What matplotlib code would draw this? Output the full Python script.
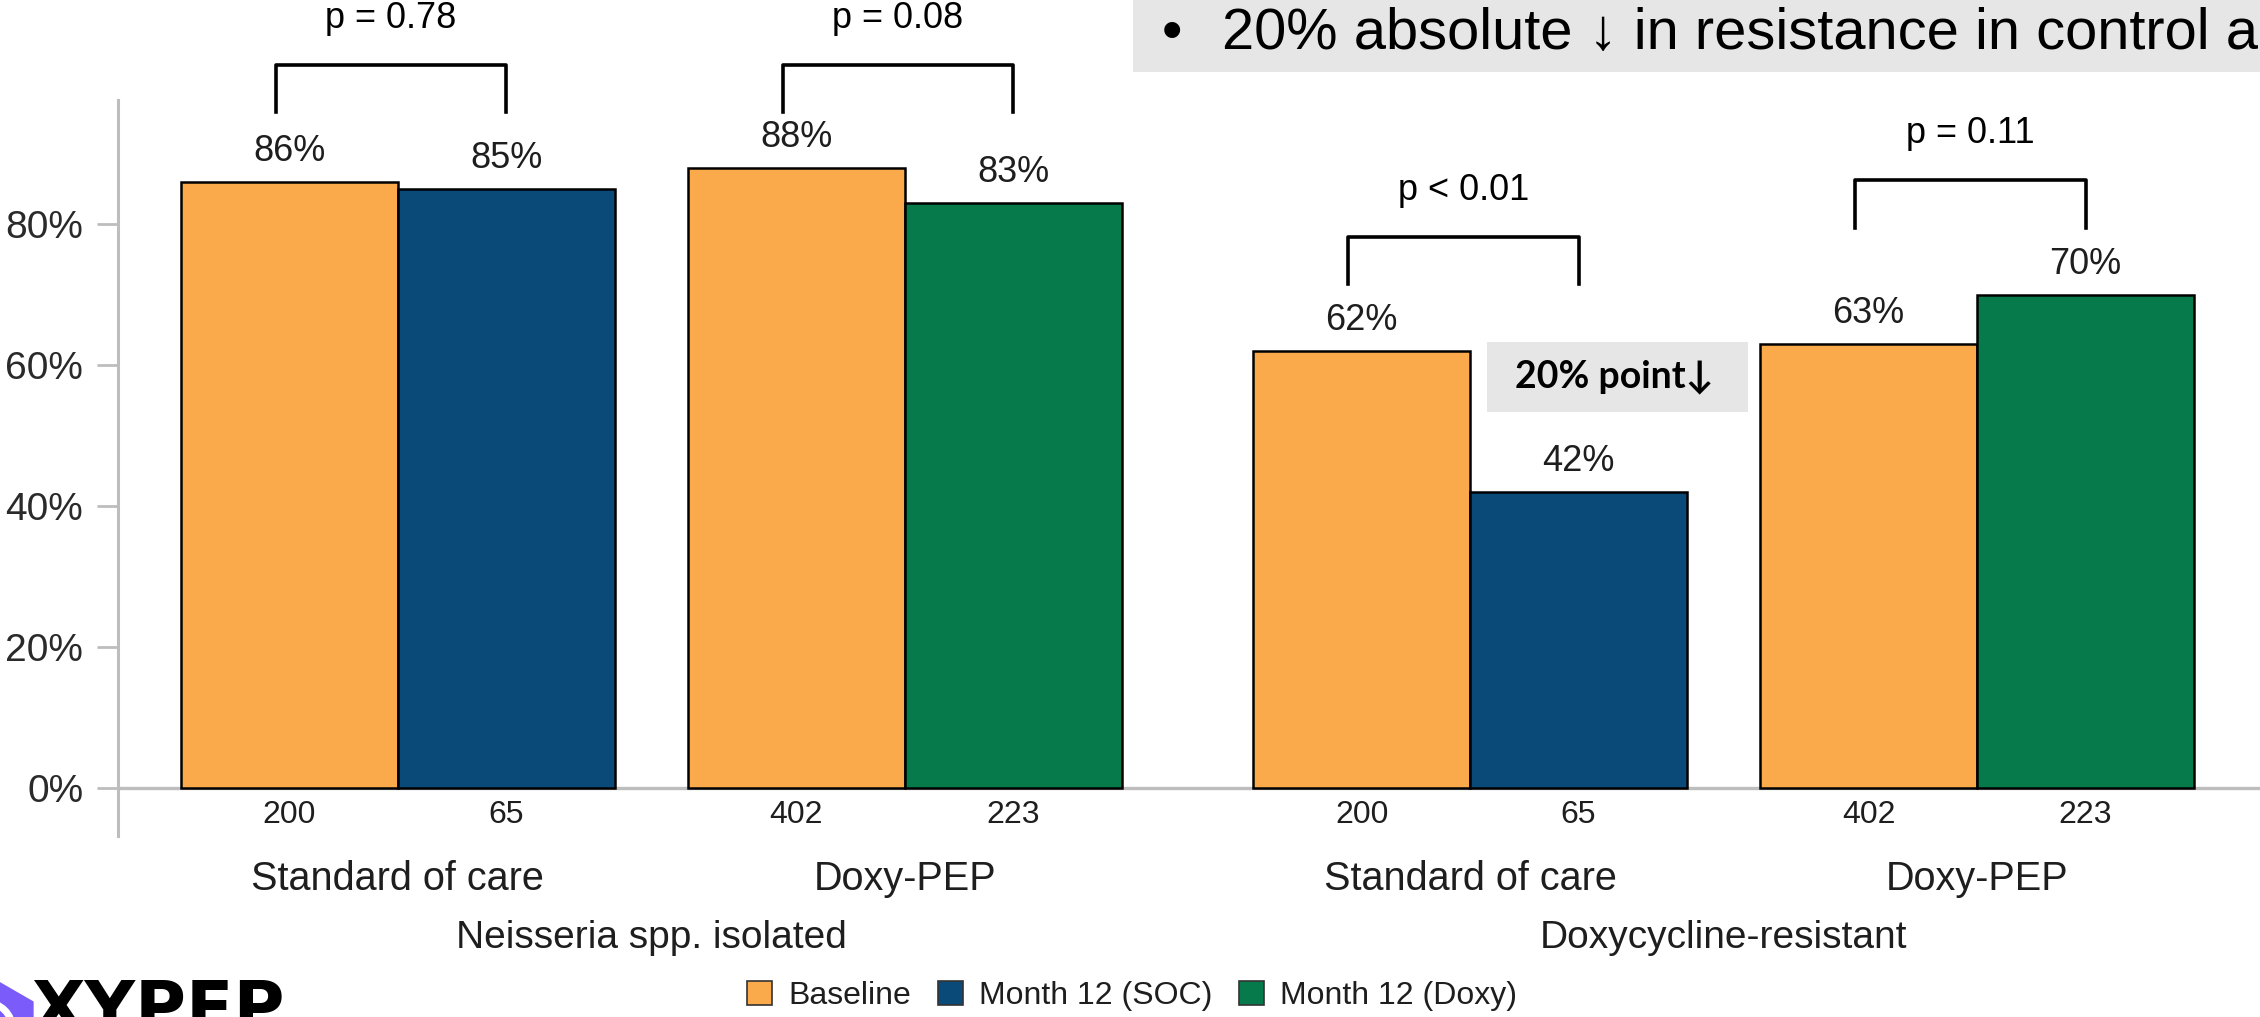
import matplotlib
matplotlib.use("Agg")
import matplotlib.pyplot as plt
from matplotlib.patches import Patch, Rectangle, RegularPolygon, Wedge

# ---------------- data ----------------
panels = ["Neisseria spp. isolated", "Doxycycline-resistant"]
arms = ["Standard of care", "Doxy-PEP", "Standard of care", "Doxy-PEP"]
baseline_pct = [86, 88, 62, 63]
month12_pct = [85, 83, 42, 70]
baseline_n = ["200", "402", "200", "402"]
month12_n = ["65", "223", "65", "223"]
month12_arm = ["SOC", "Doxy", "SOC", "Doxy"]
p_labels = ["p = 0.78", "p = 0.08", "p < 0.01", "p = 0.11"]
legend_labels = ["Baseline", "Month 12 (SOC)", "Month 12 (Doxy)"]
y_ticks = [0, 20, 40, 60, 80]
header_text = "20% absolute \u2193 in resistance in control arm"
callout_text = "20% point\u2193"

# ---------------- style ----------------
ORANGE = "#FBAA4B"
NAVY = "#0A4A79"
GREEN = "#077A4C"
GREY = "#BDBDBD"
TXT = "#1E1E1E"
PURPLE = "#7B5CFA"
m12_color = {"SOC": NAVY, "Doxy": GREEN}
FONT = ["Liberation Sans", "DejaVu Sans"]
plt.rcParams["font.family"] = FONT

W, H = 2260, 1017
fig = plt.figure(figsize=(W / 100, H / 100), dpi=100)
ax = fig.add_axes([118 / W, 181 / H, 1 - 118 / W, 736 / H])

bar_w = 0.428
panel_gap = 0.115
centers = [g + (g // 2) * panel_gap for g in range(len(arms))]
x_base = [c - bar_w / 2 for c in centers]
x_m12 = [c + bar_w / 2 for c in centers]

ax.bar(x_base, baseline_pct, width=bar_w, color=ORANGE, edgecolor="black",
       linewidth=1.8, zorder=3)
ax.bar(x_m12, month12_pct, width=bar_w,
       color=[m12_color[a] for a in month12_arm], edgecolor="black",
       linewidth=1.8, zorder=3)

ax.set_xlim(-0.552, 3.673)
ax.set_ylim(-6.8, 97.6)

# axes styling
for s in ["top", "right", "bottom"]:
    ax.spines[s].set_visible(False)
ax.spines["left"].set_color(GREY)
ax.spines["left"].set_linewidth(2.2)
ax.axhline(0, color=GREY, lw=2.4, zorder=2)
ax.set_yticks(y_ticks)
ax.set_yticklabels([f"{v}%" for v in y_ticks], fontsize=28, color="#2A2A2A")
ax.tick_params(axis="y", length=15, width=2, color=GREY, pad=10)
ax.set_xticks([])

# value labels + n labels
for xs, vals, ns in [(x_base, baseline_pct, baseline_n), (x_m12, month12_pct, month12_n)]:
    for x, v, n in zip(xs, vals, ns):
        ax.text(x, v + 4.3, f"{v}%", ha="center", va="center", fontsize=26,
                color=TXT, zorder=5)
        ax.text(x, -3.8, n, ha="center", va="center", fontsize=23, color=TXT,
                clip_on=False)

# arm labels and panel labels
for c, a in zip(centers, arms):
    ax.text(c, -12.9, a, ha="center", va="center", fontsize=28.5, color=TXT,
            clip_on=False)
for p, name in enumerate(panels):
    pc = (centers[2 * p] + centers[2 * p + 1]) / 2
    ax.text(pc, -21.3, name, ha="center", va="center", fontsize=28, color=TXT,
            clip_on=False)

# significance brackets
bottoms = [max(b, m) + 9.5 for b, m in zip(baseline_pct, month12_pct)]
left_level = max(bottoms[0:2]) - 1.6
bottoms[0] = bottoms[1] = left_level
for i, (xl, xr, pl) in enumerate(zip(x_base, x_m12, p_labels)):
    y0 = bottoms[i]
    y1 = y0 + 6.7
    xl2 = xl - 0.027
    ax.plot([xl2, xl2, xr, xr], [y0, y1, y1, y0], color="black", lw=2.6,
            clip_on=False, solid_joinstyle="round", zorder=6)
    ax.text((xl2 + xr) / 2, y1 + 6.6, pl, ha="center", va="center",
            fontsize=26, color="black", clip_on=False)

# callout box "20% point↓"
cx0 = x_m12[2] - bar_w / 2 + 0.033
ax.add_patch(Rectangle((cx0, 53.3), 0.515, 10.0, facecolor="#E6E6E6",
                       edgecolor="none", zorder=4))
ax.text(cx0 + 0.515 / 2 - 0.006, 58.3, callout_text, ha="center", va="center",
        fontsize=27, fontweight="bold", family=["Lato", "DejaVu Sans"],
        color="black", zorder=5)

# legend
handles = [Patch(facecolor=ORANGE, edgecolor="#333333", linewidth=1.2),
           Patch(facecolor=NAVY, edgecolor="#333333", linewidth=1.2),
           Patch(facecolor=GREEN, edgecolor="#333333", linewidth=1.2)]
fig.legend(handles, legend_labels, loc="center", bbox_to_anchor=(0.501, 0.0206),
           ncol=3, frameon=False, fontsize=23, handlelength=0.78,
           handleheight=0.78, handletextpad=0.5, columnspacing=0.85,
           labelcolor=TXT)

# header box (slide text)
fig.patches.append(Rectangle((1133 / W, 1 - 72 / H), 1 - 1133 / W, 72 / H,
                             transform=fig.transFigure, facecolor="#E6E6E6",
                             edgecolor="none", zorder=0))
fig.text(1172 / W, 1 - 49 / H, "\u2022", ha="center", va="baseline",
         fontsize=42, color="black")
fig.text(1222 / W, 1 - 49 / H, header_text, ha="left", va="baseline",
         fontsize=41.7, color="black", family=["Liberation Sans", "DejaVu Sans"])

# logo fragment bottom-left
fig.text(32 / W, -14 / H, "XYPEP", ha="left", va="baseline", fontsize=50,
         fontweight="bold", family=["DejaVu Sans"], color="black")
hexa = RegularPolygon((-0.14, -0.12), numVertices=6, radius=0.55,
                      orientation=0.0, transform=fig.dpi_scale_trans,
                      facecolor=PURPLE, edgecolor="none")
fig.patches.append(hexa)
arc = Wedge((-0.14, -0.12), 0.30, -90, 90, width=0.07,
            transform=fig.dpi_scale_trans, facecolor="white",
            edgecolor="none")
fig.patches.append(arc)

fig.savefig("out.png", dpi=100)
